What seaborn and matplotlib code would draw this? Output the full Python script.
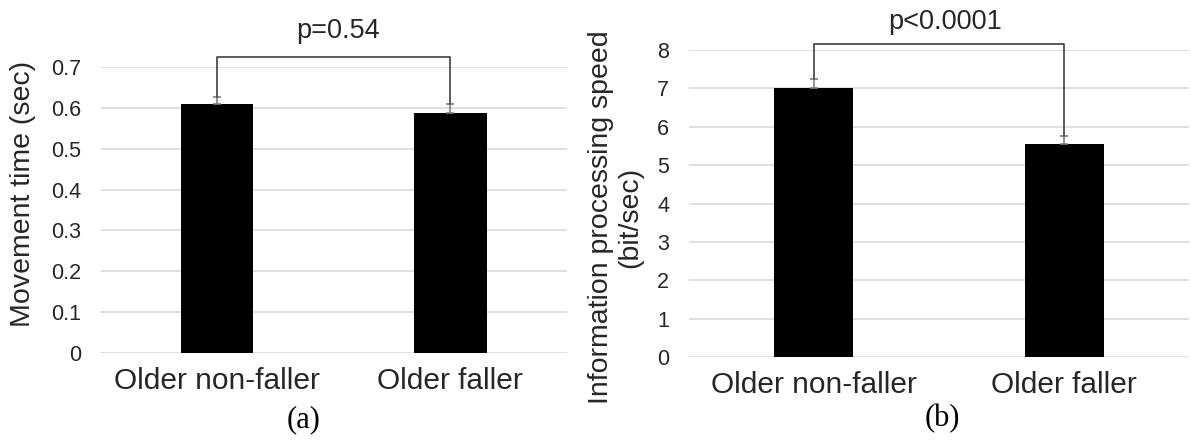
import matplotlib
matplotlib.use("Agg")
import matplotlib.pyplot as plt
import seaborn as sns
import pandas as pd

# ---- data ----
groups = ["Older non-faller", "Older faller"]
movement_time = [0.61, 0.588]
movement_err = [0.017, 0.020]
ips_speed = [7.02, 5.55]
ips_err = [0.22, 0.21]
left_yticks = [0, 0.1, 0.2, 0.3, 0.4, 0.5, 0.6, 0.7]
left_yticklabels = ["0", "0.1", "0.2", "0.3", "0.4", "0.5", "0.6", "0.7"]
right_yticks = [0, 1, 2, 3, 4, 5, 6, 7, 8]
p_left = "p=0.54"
p_right = "p<0.0001"

sns.set_theme(style="white")
plt.rcParams["font.family"] = ["Liberation Sans", "DejaVu Sans"]

TXT = "#262626"
fig = plt.figure(figsize=(11.91, 4.42), dpi=100)
axL = fig.add_axes([0.0844, 0.2007, 0.3913, 0.6484])
axR = fig.add_axes([0.5782, 0.1916, 0.4205, 0.6952])


def panel(ax, values, errs, ylim, yticks, yticklabels, ylabel, lab_xy,
          ptext, bracket_top, ptext_xy, width):
    df = pd.DataFrame({"group": groups, "value": values})
    sns.barplot(data=df, x="group", y="value", color="black", saturation=1,
                width=width, errorbar=None, ax=ax, zorder=3, edgecolor="none")
    ax.errorbar([0, 1], values, yerr=[[0, 0], errs], fmt="none",
                ecolor="#7f7f7f", elinewidth=1.2, capsize=3, capthick=1.2,
                zorder=4)
    ax.set_xlim(-0.5, 1.5)
    ax.set_ylim(*ylim)
    ax.set_yticks(yticks)
    ax.set_yticklabels(yticklabels)
    ax.yaxis.grid(True, color="#d9d9d9", linewidth=1.2, zorder=0)
    ax.xaxis.grid(False)
    ax.set_axisbelow(True)
    for s in ax.spines.values():
        s.set_visible(False)
    ax.tick_params(axis="y", length=0, pad=14, labelsize=15.5, labelcolor=TXT)
    ax.tick_params(axis="x", length=0, pad=10, labelsize=21.5, labelcolor=TXT)
    ax.set_xlabel("")
    ax.set_ylabel(ylabel, fontsize=20.5, color=TXT, linespacing=1.2)
    ax.yaxis.label.set_verticalalignment("center")
    ax.yaxis.set_label_coords(*lab_xy)
    # significance bracket
    tops = [v + e for v, e in zip(values, errs)]
    ax.plot([0, 0, 1, 1], [tops[0], bracket_top, bracket_top, tops[1]],
            color="#404040", linewidth=1.2, clip_on=False, zorder=5)
    ax.text(ptext_xy[0], ptext_xy[1], ptext, ha="center", va="center",
            fontsize=19.5, color=TXT, clip_on=False)


panel(axL, movement_time, movement_err, (0, 0.7), left_yticks,
      left_yticklabels, "Movement time (sec)", (-0.1663, 0.5576),
      p_left, 0.723, (0.52, 0.787), 0.313)
panel(axR, ips_speed, ips_err, (0, 8), right_yticks,
      [str(t) for t in right_yticks],
      "Information processing speed\n(bit/sec)", (-0.146, 0.456),
      p_right, 8.15, (0.524, 8.73), 0.315)

fig.text(304 / 1191, 1 - 420 / 442, "(a)", ha="center", va="center",
         fontsize=22, family=["Liberation Serif", "DejaVu Serif"], color="black")
fig.text(942.5 / 1191, 1 - 419 / 442, "(b)", ha="center", va="center",
         fontsize=22, family=["Liberation Serif", "DejaVu Serif"], color="black")

fig.savefig("out.png", dpi=100)
